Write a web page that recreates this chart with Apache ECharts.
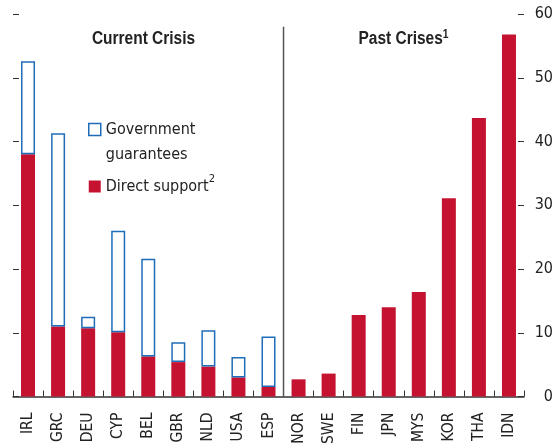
<!DOCTYPE html>
<html>
<head>
<meta charset="utf-8">
<script src="https://cdn.jsdelivr.net/npm/echarts@6/dist/echarts.min.js"></script>
<style>
html,body{margin:0;padding:0;background:#fff;}
#chart{width:556px;height:447px;}
</style>
</head>
<body>
<div id="chart"></div>
<script>
var categories = ['IRL','GRC','DEU','CYP','BEL','GBR','NLD','USA','ESP','NOR','SWE','FIN','JPN','MYS','KOR','THA','IDN'];
var directSupport = [38.0, 11.0, 10.7, 10.1, 6.3, 5.4, 4.7, 3.0, 1.5, 2.7, 3.6, 12.8, 14.0, 16.4, 31.1, 43.7, 56.8];
var govGuarantees = [14.6, 30.3, 1.8, 15.9, 15.3, 3.1, 5.7, 3.2, 7.9, null, null, null, null, null, null, null, null];
var yTicks = [0, 10, 20, 30, 40, 50, 60];
var panelTitles = ['Current Crisis', 'Past Crises'];
var dividerAt = 8.5; // boundary between ESP and NOR (category index units)
var dividerTop = 58;

var FONT = "'DejaVu Sans Condensed','Liberation Sans Narrow','Arial Narrow',sans-serif";
var TFONT = "'Liberation Sans',Arial,sans-serif";
var RED = '#C41230';
var BLUE = '#1F6DB8';
var DARK = '#333333';
var TXT = '#222222';

var chart = echarts.init(document.getElementById('chart'));
chart.setOption({
  animation: false,
  textStyle: { fontFamily: FONT },
  graphic: [
    { type: 'text', x: 143.5, y: 39, scaleX: 0.86, silent: true,
      style: { text: panelTitles[0], font: 'bold 18px ' + TFONT, fill: TXT,
               align: 'center', verticalAlign: 'middle', textAlign: 'center', textVerticalAlign: 'middle' } },
    { type: 'text', x: 403.5, y: 39, scaleX: 0.86, silent: true,
      style: { text: '{t|' + panelTitles[1] + '}{s|1}', fill: TXT,
               align: 'center', verticalAlign: 'middle', textAlign: 'center', textVerticalAlign: 'middle',
               rich: { t: { fontFamily: TFONT, fontWeight: 'bold', fontSize: 18, fill: TXT, color: TXT, lineHeight: 20 },
                       s: { fontFamily: TFONT, fontWeight: 'bold', fontSize: 12, fill: TXT, color: TXT, verticalAlign: 'top', lineHeight: 12 } } } }
  ],
  legend: {
    orient: 'vertical',
    left: 88, top: 92,
    padding: 0,
    itemGap: 7,
    itemWidth: 12, itemHeight: 12,
    data: [
      { name: 'Government guarantees', icon: 'rect', itemStyle: { color: '#fff', borderColor: BLUE, borderWidth: 1.5 } },
      { name: 'Direct support', icon: 'rect', itemStyle: { color: RED, borderWidth: 0 } }
    ],
    formatter: function (name) {
      if (name === 'Government guarantees') return '\n{t|Government}\n{t|guarantees}';
      return '{t|Direct support}{s|2}';
    },
    textStyle: {
      fontFamily: FONT, fontSize: 16, color: TXT, lineHeight: 25,
      rich: {
        t: { fontFamily: FONT, fontSize: 16, color: TXT, lineHeight: 25 },
        s: { fontFamily: FONT, fontSize: 11, color: TXT, verticalAlign: 'top', lineHeight: 16 }
      }
    }
  },
  grid: { left: 13, right: 31, top: 14, bottom: 48 },
  xAxis: [
    {
      type: 'category',
      data: categories,
      axisLine: { onZero: false, lineStyle: { color: DARK, width: 1.5 } },
      axisTick: { show: true, inside: true, length: 6, interval: 0, lineStyle: { color: DARK, width: 1 } },
      axisLabel: { interval: 0, rotate: 90, margin: 16, fontFamily: FONT, fontSize: 15.5, color: TXT }
    },
    { type: 'value', min: -0.5, max: 16.5, show: false }
  ],
  yAxis: [
    {
      type: 'value', position: 'right', min: yTicks[0], max: yTicks[yTicks.length - 1], interval: 10,
      axisLine: { show: false, onZero: false },
      axisTick: { show: true, inside: true, length: 6, lineStyle: { color: DARK, width: 1 } },
      splitLine: { show: false },
      axisLabel: { margin: 29, align: 'right', padding: [7, 0, 0, 0], fontFamily: FONT, fontSize: 16, color: TXT }
    },
    {
      type: 'value', position: 'left', min: yTicks[0], max: yTicks[yTicks.length - 1], interval: 10,
      axisLine: { show: false, onZero: false },
      axisTick: { show: true, inside: true, length: 6, lineStyle: { color: DARK, width: 1 } },
      splitLine: { show: false },
      axisLabel: { show: false }
    }
  ],
  series: [
    {
      name: 'Direct support', type: 'bar', stack: 'total', xAxisIndex: 0, yAxisIndex: 0,
      barWidth: 14, data: directSupport,
      itemStyle: { color: RED }
    },
    {
      name: 'Government guarantees', type: 'bar', stack: 'total', xAxisIndex: 0, yAxisIndex: 0,
      barWidth: 14, data: govGuarantees,
      itemStyle: { color: '#fff', borderColor: BLUE, borderWidth: 1.5 }
    },
    {
      name: 'divider', type: 'line', xAxisIndex: 1, yAxisIndex: 0, silent: true,
      symbol: 'none', data: [[dividerAt, 0], [dividerAt, dividerTop]],
      lineStyle: { color: '#555', width: 1.5 }
    }
  ]
});
</script>
</body>
</html>
